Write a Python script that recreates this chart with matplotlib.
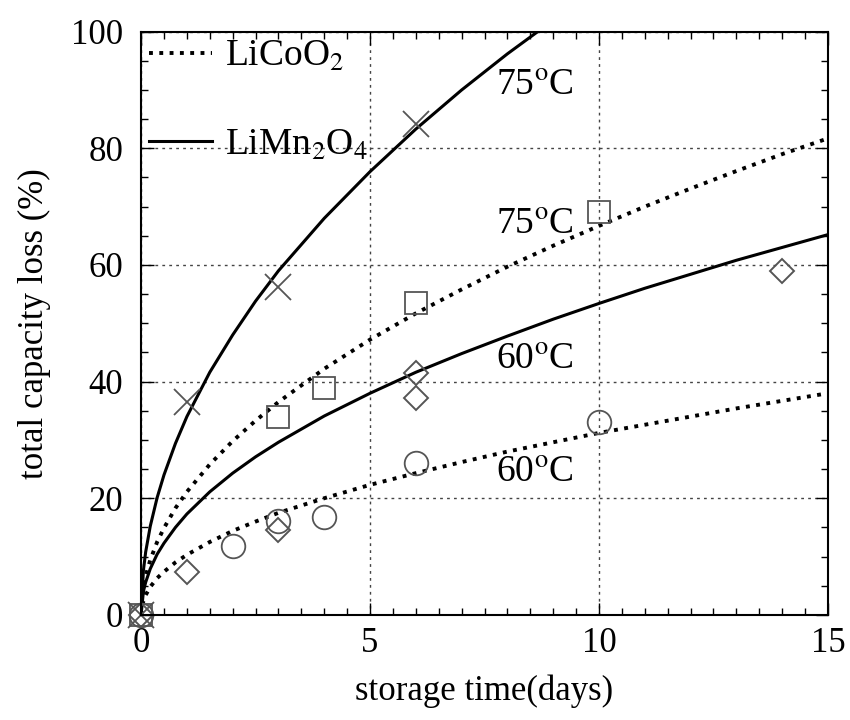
import matplotlib
matplotlib.use("Agg")
import matplotlib.pyplot as plt
from matplotlib.lines import Line2D
from matplotlib.ticker import MultipleLocator

plt.rcParams['font.family'] = ['Liberation Serif', 'DejaVu Serif']
plt.rcParams['mathtext.fontset'] = 'stix'

# model curves (storage time in days, capacity loss in %)
t_mn75 = [0, 0.05, 0.1, 0.2, 0.35, 0.5, 0.75, 1, 1.5, 2, 2.5, 3, 4, 5, 6, 7, 8, 8.8]
mn75 = [0, 7.6, 10.8, 15.2, 20.1, 24.0, 29.4, 34.0, 41.6, 48.0, 53.8, 59.0, 68.0, 76.0, 83.3, 90.0, 96.2, 100.8]

t_fit = [0, 0.05, 0.1, 0.2, 0.35, 0.5, 0.75, 1, 1.5, 2, 2.5, 3, 4, 5, 6, 7, 8, 9, 10, 11, 12, 13, 14, 15]
co75 = [0, 4.7, 6.7, 9.4, 12.5, 14.9, 18.3, 21.1, 25.8, 29.8, 33.3, 36.5, 42.2, 47.2, 51.7, 55.8, 59.7, 63.3, 66.7, 70.0, 73.1, 76.1, 79.0, 81.7]
mn60 = [0, 4.0, 5.6, 7.9, 10.4, 12.3, 15.0, 17.3, 21.1, 24.3, 27.1, 29.6, 34.1, 38.0, 41.6, 44.8, 47.8, 50.7, 53.4, 56.0, 58.4, 60.8, 63.0, 65.2]
co60 = [0, 2.4, 3.4, 4.8, 6.3, 7.4, 9.0, 10.3, 12.5, 14.4, 16.0, 17.5, 20.0, 22.3, 24.3, 26.2, 28.0, 29.6, 31.2, 32.6, 34.0, 35.4, 36.7, 38.0]

# measured points
x_cross = [0, 1, 3, 6]
y_cross = [0, 36.5, 56.2, 84.1]
x_square = [0, 3, 4, 6, 10]
y_square = [0, 34.0, 38.9, 53.5, 69.0]
x_diamond = [0, 1, 3, 6, 6, 14]
y_diamond = [0, 7.4, 14.6, 41.5, 37.2, 58.9]
x_circle = [0, 2, 3, 4, 6, 10]
y_circle = [0, 11.8, 16.1, 16.8, 26.0, 33.1]

fig = plt.figure(figsize=(8.5, 7.2), dpi=100)
ax = fig.add_axes([0.166, 0.146, 0.808, 0.810])

lw = 2.2
ax.plot(t_mn75, mn75, '-', color='black', lw=lw)
ax.plot(t_fit, co75, ':', color='black', lw=2.8)
ax.plot(t_fit, mn60, '-', color='black', lw=lw)
ax.plot(t_fit, co60, ':', color='black', lw=2.8)

mc = '#555555'
ax.plot(x_cross, y_cross, 'x', ms=19, mew=1.3, color=mc, clip_on=False)
ax.plot(x_square, y_square, 's', ms=16, mew=1.3, mfc='none', mec=mc, clip_on=False)
ax.plot(x_diamond, y_diamond, 'D', ms=12, mew=1.4, mfc='none', mec=mc, clip_on=False)
ax.plot(x_circle, y_circle, 'o', ms=17, mew=1.3, mfc='none', mec=mc, clip_on=False)

ax.set_xlim(0, 15)
ax.set_ylim(0, 100)
ax.xaxis.set_major_locator(MultipleLocator(5))
ax.xaxis.set_minor_locator(MultipleLocator(0.5))
ax.yaxis.set_major_locator(MultipleLocator(20))
ax.yaxis.set_minor_locator(MultipleLocator(5))
ax.tick_params(which='both', direction='in', top=True, right=True, labelsize=25, width=1.0)
ax.tick_params(which='major', length=9)
ax.tick_params(axis='x', which='major', pad=9)
ax.tick_params(axis='y', which='major', pad=13)
ax.tick_params(which='minor', length=5)
for s in ax.spines.values():
    s.set_linewidth(1.5)
ax.grid(True, which='major', linestyle=(0, (2, 3)), color='#444444', lw=1.0)

ax.set_xlabel('storage time(days)', fontsize=25, labelpad=10)
ax.set_ylabel('total capacity loss (%)', fontsize=25, labelpad=14)

tfs = 27
ax.text(7.75, 90.8, r'75$^{\rm o}$C', fontsize=tfs, va='center')
ax.text(7.75, 66.9, r'75$^{\rm o}$C', fontsize=tfs, va='center')
ax.text(7.75, 43.8, r'60$^{\rm o}$C', fontsize=tfs, va='center')
ax.text(7.75, 24.4, r'60$^{\rm o}$C', fontsize=tfs, va='center')

handles = [Line2D([], [], ls=':', color='black', lw=2.8),
           Line2D([], [], ls='-', color='black', lw=lw)]
leg = ax.legend(handles, [r'LiCoO$_2$', r'LiMn$_2$O$_4$'], loc='upper left',
                frameon=False, fontsize=27, handlelength=1.7, handletextpad=0.35,
                labelspacing=1.45, borderaxespad=0.0, borderpad=0.2)

fig.savefig('out.png', dpi=100)
